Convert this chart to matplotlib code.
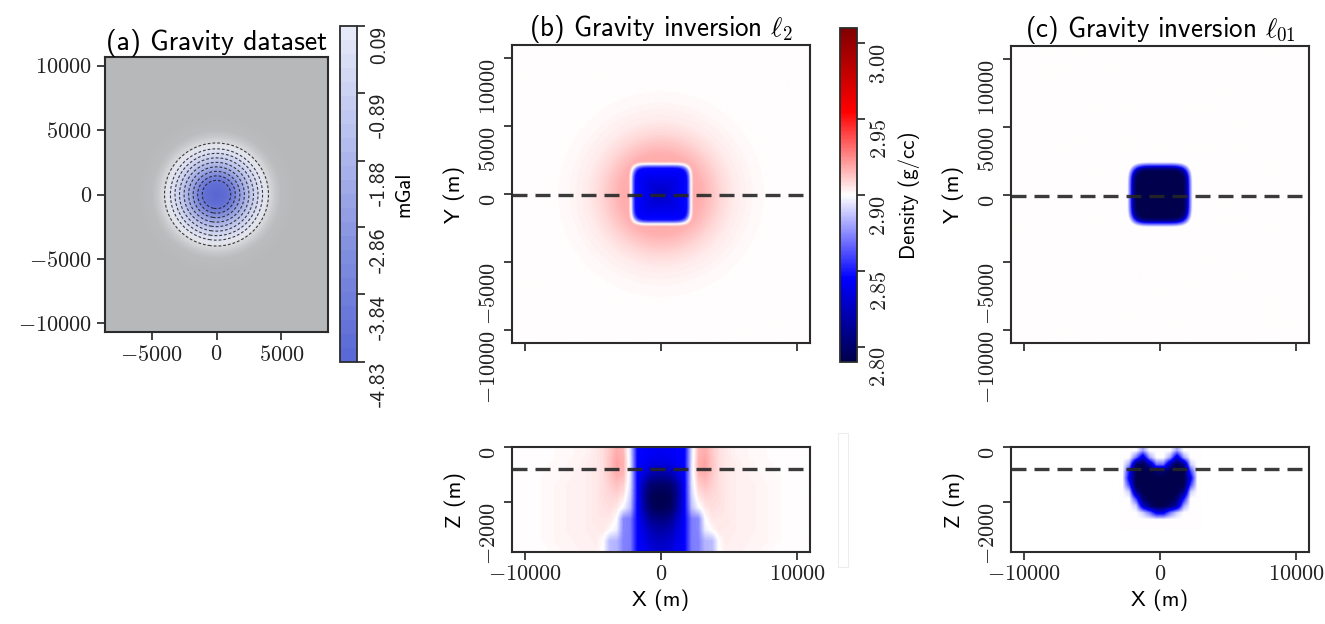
import numpy as np
import matplotlib
matplotlib.use("Agg")
import matplotlib.pyplot as plt
from matplotlib import ticker
from matplotlib.colors import LinearSegmentedColormap, Normalize
from matplotlib.cm import ScalarMappable

plt.rcParams["mathtext.fontset"] = "cm"
plt.rcParams["font.family"] = ["cmss10", "DejaVu Sans"]
plt.rcParams["axes.unicode_minus"] = False

# ---------------- data ----------------
# (a) gravity anomaly: radial profile (m -> mGal)
grav_radius = [0, 800, 1100, 1450, 1800, 2150, 2500, 2850, 3200, 3550, 4000, 4500, 5000, 6000, 7000, 20000]
grav_value = [-4.83, -4.60, -4.34, -3.85, -3.36, -2.86, -2.37, -1.88, -1.39, -0.90, -0.41, -0.20, -0.09, -0.02, 0.0, 0.0]
grav_ticks = [0.09, -0.89, -1.88, -2.86, -3.84, -4.83]
grav_contour_levels = [-4.34, -3.85, -3.36, -2.86, -2.37, -1.88, -1.39, -0.90, -0.41]

# (b) l2 inversion, plan view: block anomaly vs rounded-square distance, halo vs radius
l2_block_dist = [0, 1000, 1600, 1900, 2050, 2200, 2400, 30000]
l2_block_anom = [-0.092, -0.082, -0.075, -0.072, -0.050, -0.020, 0.0, 0.0]
l2_halo_radius = [0, 2000, 2500, 3000, 3500, 4500, 5500, 7000, 9000, 30000]
l2_halo_anom = [0.019, 0.019, 0.018, 0.017, 0.014, 0.008, 0.004, 0.0012, 0.0, 0.0]

# (b) l2 inversion, section at y=0 (half, x >= 0), density g/cc
l2_sec_x = [250, 750, 1250, 1750, 2250, 2750, 3250, 3750, 4250, 4750, 5250,
            5750, 6250, 6750, 7250, 7750, 8250, 8750, 9250, 9750, 10250, 10750]
l2_sec_z = [-200, -600, -1000, -1400, -1800, -2200, -2600, -3000, -3400, -3800]
l2_sec_half = [
    [2.842, 2.843, 2.845, 2.846, 2.893, 2.915, 2.918, 2.912, 2.907, 2.905, 2.903, 2.902, 2.902, 2.901, 2.901, 2.901, 2.900, 2.900, 2.900, 2.900, 2.900, 2.900],
    [2.836, 2.838, 2.843, 2.846, 2.894, 2.917, 2.920, 2.913, 2.907, 2.905, 2.904, 2.903, 2.902, 2.902, 2.901, 2.901, 2.901, 2.900, 2.900, 2.900, 2.900, 2.900],
    [2.815, 2.820, 2.834, 2.846, 2.894, 2.915, 2.917, 2.912, 2.907, 2.905, 2.904, 2.903, 2.903, 2.902, 2.902, 2.901, 2.901, 2.901, 2.900, 2.900, 2.900, 2.900],
    [2.798, 2.800, 2.818, 2.846, 2.893, 2.910, 2.913, 2.910, 2.907, 2.905, 2.904, 2.903, 2.903, 2.903, 2.902, 2.902, 2.901, 2.901, 2.900, 2.900, 2.900, 2.900],
    [2.791, 2.794, 2.814, 2.846, 2.890, 2.905, 2.909, 2.908, 2.907, 2.905, 2.904, 2.903, 2.903, 2.903, 2.902, 2.902, 2.901, 2.901, 2.900, 2.900, 2.900, 2.900],
    [2.793, 2.797, 2.818, 2.846, 2.886, 2.898, 2.905, 2.907, 2.906, 2.905, 2.904, 2.903, 2.903, 2.903, 2.902, 2.902, 2.901, 2.901, 2.900, 2.900, 2.900, 2.900],
    [2.806, 2.811, 2.828, 2.846, 2.872, 2.874, 2.900, 2.905, 2.905, 2.905, 2.904, 2.903, 2.903, 2.903, 2.902, 2.902, 2.901, 2.901, 2.900, 2.900, 2.900, 2.900],
    [2.818, 2.823, 2.835, 2.846, 2.872, 2.874, 2.896, 2.901, 2.905, 2.904, 2.904, 2.903, 2.903, 2.903, 2.902, 2.902, 2.901, 2.901, 2.900, 2.900, 2.900, 2.900],
    [2.826, 2.830, 2.839, 2.846, 2.872, 2.873, 2.884, 2.885, 2.900, 2.904, 2.903, 2.903, 2.903, 2.902, 2.902, 2.902, 2.901, 2.901, 2.900, 2.900, 2.900, 2.900],
    [2.831, 2.835, 2.842, 2.846, 2.872, 2.873, 2.884, 2.885, 2.900, 2.903, 2.903, 2.903, 2.902, 2.902, 2.902, 2.901, 2.901, 2.900, 2.900, 2.900, 2.900, 2.900],
]

# (c) l01 inversion, plan view: density vs rounded-square distance
l01_plan_dist = [0, 1700, 1950, 2150, 2400, 30000]
l01_plan_density = [2.79, 2.79, 2.81, 2.86, 2.90, 2.90]

# (c) l01 inversion, section
l01_sec_x = [-2750, -2250, -1750, -1250, -750, -250, 250, 750, 1250, 1750, 2250, 2750]
l01_sec_z = [-125, -375, -625, -875, -1125, -1375, -1625, -1875, -2125, -2375, -2625, -2875]
l01_sec = [
    [2.90, 2.90, 2.90, 2.88, 2.90, 2.90, 2.90, 2.90, 2.88, 2.90, 2.90, 2.90],
    [2.90, 2.90, 2.87, 2.83, 2.88, 2.90, 2.90, 2.88, 2.83, 2.88, 2.90, 2.90],
    [2.90, 2.88, 2.80, 2.79, 2.82, 2.87, 2.87, 2.82, 2.79, 2.81, 2.89, 2.90],
    [2.90, 2.85, 2.79, 2.79, 2.79, 2.80, 2.80, 2.79, 2.79, 2.79, 2.86, 2.90],
    [2.90, 2.84, 2.79, 2.79, 2.79, 2.79, 2.79, 2.79, 2.79, 2.79, 2.84, 2.90],
    [2.90, 2.86, 2.79, 2.79, 2.79, 2.79, 2.79, 2.79, 2.79, 2.79, 2.86, 2.90],
    [2.90, 2.89, 2.81, 2.79, 2.79, 2.79, 2.79, 2.79, 2.79, 2.81, 2.89, 2.90],
    [2.90, 2.90, 2.86, 2.80, 2.79, 2.79, 2.79, 2.79, 2.80, 2.85, 2.90, 2.90],
    [2.90, 2.90, 2.89, 2.83, 2.80, 2.79, 2.79, 2.80, 2.82, 2.88, 2.90, 2.90],
    [2.90, 2.90, 2.90, 2.89, 2.87, 2.84, 2.84, 2.87, 2.89, 2.90, 2.90, 2.90],
    [2.90, 2.90, 2.90, 2.90, 2.90, 2.90, 2.90, 2.90, 2.90, 2.90, 2.90, 2.90],
    [2.90, 2.90, 2.90, 2.90, 2.90, 2.90, 2.90, 2.90, 2.90, 2.90, 2.90, 2.90],
]

density_ticks = [2.80, 2.85, 2.90, 2.95, 3.00]
density_range = (2.79, 3.01)
section_y = -100     # plan-view section line (m)
section_z = -800     # section depth line (m)
background_density = 2.90

# ---------------- figure ----------------
W, H = 1325, 624
fig = plt.figure(figsize=(W / 100, H / 100), dpi=100)


def box(l, t, r, b):
    return [l / W, 1 - b / H, (r - l) / W, (b - t) / H]


ax_a = fig.add_axes(box(105, 57, 328, 332))
cax_a = fig.add_axes(box(340, 26, 357, 362))
ax_b = fig.add_axes(box(512, 45, 810, 343))
ax_bs = fig.add_axes(box(512, 447, 810, 552))
cax_b = fig.add_axes(box(840, 28, 857, 362))
ax_ghost = fig.add_axes(box(838, 433, 848, 567))
ax_c = fig.add_axes(box(1011, 46, 1309, 343))
ax_cs = fig.add_axes(box(1011, 447, 1309, 552))

spine_col = "#2b2b2b"
tick_col = "#333333"
serif_fmt = ticker.FuncFormatter(lambda v, p: r"$%d$" % int(round(v)))


def style_axes(ax):
    for s in ax.spines.values():
        s.set_color(spine_col)
        s.set_linewidth(1.5)
    ax.tick_params(direction="out", length=6, width=1.3, color=tick_col,
                   labelsize=16, labelcolor="#222222")


# ---------------- (a) gravity dataset ----------------
xa = np.linspace(-8600, 8600, 346)
ya = np.linspace(-10700, 10700, 430)
XA, YA = np.meshgrid(xa, ya)
GA = np.interp(np.hypot(XA, YA), grav_radius, grav_value)
gnorm = Normalize(min(grav_ticks), max(grav_ticks))

shade_cmap = LinearSegmentedColormap.from_list("shade", [
    (0.00, "#5a67d2"), (0.17, "#7480d8"), (0.38, "#a0aae4"), (0.58, "#c6ccee"),
    (0.78, "#dfe2f2"), (0.88, "#e3e4ea"), (0.93, "#cfd0d3"), (0.965, "#bbbcbe"),
    (1.00, "#b4b5b7")])
ax_a.imshow(GA, extent=[xa[0], xa[-1], ya[0], ya[-1]], origin="lower",
            cmap=shade_cmap, norm=gnorm, interpolation="bilinear", aspect="auto")
cs = ax_a.contour(XA, YA, GA, levels=grav_contour_levels, colors="#1e1e1e",
                  linewidths=0.8, linestyles="dashed", alpha=0.85)
cs.set_linestyle((0, (2.5, 1.8)))
ax_a.set_xlim(-8600, 8600)
ax_a.set_ylim(-10700, 10700)
ax_a.set_xticks([-5000, 0, 5000])
ax_a.set_yticks([-10000, -5000, 0, 5000, 10000])
ax_a.xaxis.set_major_formatter(serif_fmt)
ax_a.yaxis.set_major_formatter(serif_fmt)
style_axes(ax_a)
ax_a.set_title("(a) Gravity dataset", fontsize=20, pad=5)

cb_cmap = LinearSegmentedColormap.from_list("cb", ["#5a69d6", "#8390df", "#b6beee", "#e6e9f7"], N=24)
cba = fig.colorbar(ScalarMappable(norm=gnorm, cmap=cb_cmap), cax=cax_a, ticks=grav_ticks,
                   format="%.2f")
cba.outline.set_edgecolor(spine_col)
cba.outline.set_linewidth(1.3)
cax_a.tick_params(direction="out", length=6, width=1.3, color=tick_col, labelsize=15.5,
                  labelrotation=90, labelcolor="#222222")
for t in cax_a.get_yticklabels():
    t.set_va("top")
cba.set_label("mGal", fontsize=15, labelpad=4)

# ---------------- (b) l2 inversion ----------------
dnorm = Normalize(*density_range)
xb = np.linspace(-10950, 10950, 439)
XB, YB = np.meshgrid(xb, xb)
DSQ = (np.abs(XB) ** 6 + np.abs(YB) ** 6) ** (1 / 6)
DB = (background_density + np.interp(DSQ, l2_block_dist, l2_block_anom)
      + np.interp(np.hypot(XB, YB), l2_halo_radius, l2_halo_anom))
ax_b.imshow(DB, extent=[xb[0], xb[-1], xb[0], xb[-1]], origin="lower", cmap="seismic",
            norm=dnorm, interpolation="bilinear", aspect="auto")

half = np.array(l2_sec_half)
sec_full = np.hstack([half[:, ::-1], half])
dxs = l2_sec_x[1] - l2_sec_x[0]
dzs = l2_sec_z[0] - l2_sec_z[1]
ax_bs.imshow(sec_full, extent=[-l2_sec_x[-1] - dxs / 2, l2_sec_x[-1] + dxs / 2,
                               l2_sec_z[-1] - dzs / 2, l2_sec_z[0] + dzs / 2],
             origin="upper", cmap="seismic", norm=dnorm, interpolation="bilinear", aspect="auto")

# ---------------- (c) l01 inversion ----------------
DC = np.interp((np.abs(XB) ** 5 + np.abs(YB) ** 5) ** (1 / 5), l01_plan_dist, l01_plan_density)
ax_c.imshow(DC, extent=[xb[0], xb[-1], xb[0], xb[-1]], origin="lower", cmap="seismic",
            norm=dnorm, interpolation="bilinear", aspect="auto")
dxc = l01_sec_x[1] - l01_sec_x[0]
dzc = l01_sec_z[0] - l01_sec_z[1]
ax_cs.imshow(np.array(l01_sec), extent=[l01_sec_x[0] - dxc / 2, l01_sec_x[-1] + dxc / 2,
                                        l01_sec_z[-1] - dzc / 2, l01_sec_z[0] + dzc / 2],
             origin="upper", cmap="seismic", norm=dnorm, interpolation="bilinear", aspect="auto")

dash_kw = dict(color="#262626", lw=2.4, dashes=(4.5, 2.4), alpha=0.9)
for ax, title in [(ax_b, r"(b) Gravity inversion $\ell_2$"),
                  (ax_c, r"(c) Gravity inversion $\ell_{01}$")]:
    ax.set_facecolor("white")
    ax.set_xlim(-10950, 10950)
    ax.set_ylim(-10950, 10950)
    ax.set_xticks([-10000, 0, 10000])
    ax.set_xticklabels([])
    ax.set_yticks([-10000, -5000, 0, 5000, 10000])
    ax.yaxis.set_major_formatter(serif_fmt)
    style_axes(ax)
    ax.tick_params(axis="y", labelrotation=90)
    for t in ax.get_yticklabels():
        t.set_va("top")
    ax.set_ylabel("Y (m)", fontsize=16, labelpad=10)
    ax.set_title(title, fontsize=19.5, pad=5)
    ax.axhline(section_y, **dash_kw)

for ax in [ax_bs, ax_cs]:
    ax.set_facecolor("white")
    ax.set_xlim(-10950, 10950)
    ax.set_ylim(-3800, 0)
    ax.set_xticks([-10000, 0, 10000])
    ax.set_yticks([-2000, 0])
    ax.xaxis.set_major_formatter(serif_fmt)
    ax.yaxis.set_major_formatter(serif_fmt)
    style_axes(ax)
    ax.tick_params(axis="y", labelrotation=90)
    for t in ax.get_yticklabels():
        t.set_va("top")
    ax.set_ylabel("Z (m)", fontsize=16, labelpad=10)
    ax.set_xlabel("X (m)", fontsize=16, labelpad=4)
    ax.axhline(section_z, **dash_kw)

cbb = fig.colorbar(ScalarMappable(norm=dnorm, cmap="seismic"), cax=cax_b, ticks=density_ticks)
cbb.ax.yaxis.set_major_formatter(ticker.FuncFormatter(lambda v, p: r"$%.2f$" % v))
cbb.outline.set_edgecolor(spine_col)
cbb.outline.set_linewidth(1.3)
cax_b.tick_params(direction="out", length=6, width=1.3, color=tick_col, labelsize=16,
                  labelrotation=90, labelcolor="#222222")
for t in cax_b.get_yticklabels():
    t.set_va("top")
cbb.set_label("Density (g/cc)", fontsize=15, labelpad=6)

# faint empty colorbar frame beside the section
ax_ghost.set_xticks([])
ax_ghost.set_yticks([])
for s in ax_ghost.spines.values():
    s.set_color("#ededed")
    s.set_linewidth(0.8)

fig.savefig("out.png", dpi=100)
